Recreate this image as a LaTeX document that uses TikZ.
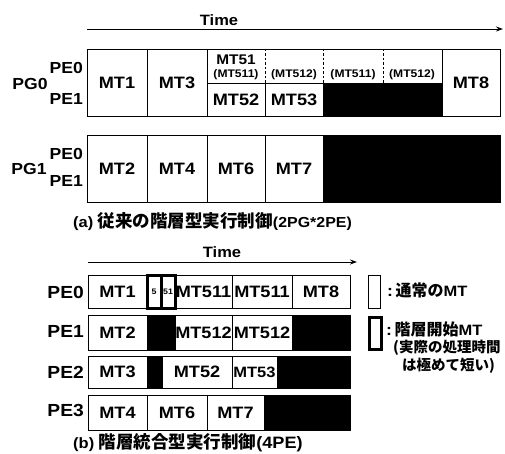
\documentclass[tikz,border=0pt]{standalone}
\usepackage{fontspec}
\setmainfont{Liberation Sans}
\newfontfamily\lat[FakeStretch=1.1]{Liberation Sans}
\newfontfamily\jp{Noto Sans CJK JP}
\usetikzlibrary{arrows.meta}
\newcommand\fs[1]{\fontsize{#1}{#1}\selectfont}
\newcommand\mtcell[7][]{\node[cellbox,minimum width={(#5-#3)*1pt},minimum height={(#6-#4)*1pt},#1] (#2) at ({(#3+#5)/2},{(#4+#6)/2}) {#7};}
\tikzset{
  cellbox/.style={draw=black,line width=0.9pt,inner sep=0pt,outer sep=0pt,font=\lat\bfseries\fs{16.5}},
  narrowcell/.style={font=\lat\bfseries\fs{15}},
  blk/.style={fill=black},
  thickbox/.style={line width=3pt},
  plain/.style={draw=none},
  lbl/.style={inner sep=0pt,font=\lat\bfseries\fs{16}},
  lblb/.style={inner sep=0pt,font=\lat\bfseries\fs{17.5}},
  small/.style={inner sep=0pt,font=\lat\bfseries\fs{11}},
  tiny5/.style={font=\lat\bfseries\fs{8}},
  timearrow/.style={line width=0.9pt,-{Stealth[length=7pt,width=5pt]}},
  sepdash/.style={line width=0.9pt,dash pattern=on 2.5pt off 2pt}
}
\begin{document}
\begin{tikzpicture}[x=1pt,y=-1pt]
\useasboundingbox (0,0) rectangle (505,454);
% ---------- (a) ----------
\node[lbl,font=\lat\bfseries\fs{15}] (timea) at (219,20) {Time};
\coordinate (ta0) at (87,29);
\coordinate (ta1) at (503,29);
\draw[timearrow] (ta0) -- (ta1);

\node[lbl,anchor=east] (pe0a) at (83,68) {PE0};
\node[lbl,anchor=east] (pe1a) at (83,99) {PE1};
\node[lbl] (pg0) at (30,84) {PG0};

\mtcell{pg0box}{87}{49}{500}{116}{}
\mtcell{mt1a}{87}{49}{147}{116}{MT1}
\mtcell{mt3a}{147}{49}{207}{116}{MT3}
\mtcell[plain]{t1}{207}{49}{265}{83}{}
\mtcell[plain]{t2}{265}{49}{323}{83}{}
\mtcell[plain]{t3}{323}{49}{383}{83}{}
\mtcell[plain]{t4}{383}{49}{442}{83}{}
\mtcell{mt52a}{207}{83}{265}{116}{MT52}
\mtcell{mt53a}{265}{83}{323}{116}{MT53}
\mtcell[blk]{blk0}{323}{83}{442}{116}{}
\mtcell{mt8a}{442}{49}{500}{116}{MT8}
\draw[sepdash] (t2.north west) -- (t2.south west);
\draw[sepdash] (t3.north west) -- (t3.south west);
\draw[sepdash] (t4.north west) -- (t4.south west);
\node[lbl,font=\lat\bfseries\fs{14}] (mt51) at (236,60) {MT51};
\node[small] (s1) at (236,75) {(MT511)};
\node[small] (s2) at (294,75) {(MT512)};
\node[small] (s3) at (353,75) {(MT511)};
\node[small] (s4) at (412,75) {(MT512)};

\node[lbl,anchor=east] (pe0b) at (83,154) {PE0};
\node[lbl,anchor=east] (pe1b) at (83,181) {PE1};
\node[lbl] (pg1) at (29,169) {PG1};
\mtcell{pg1box}{87}{135}{500}{202}{}
\mtcell{mt2a}{87}{135}{147}{202}{MT2}
\mtcell{mt4a}{147}{135}{207}{202}{MT4}
\mtcell{mt6a}{207}{135}{265}{202}{MT6}
\mtcell{mt7a}{265}{135}{323}{202}{MT7}
\mtcell[blk]{blk1}{323}{135}{500}{202}{}

\node[inner sep=0pt,anchor=west] (capa) at (73,222)
  {{\lat\bfseries\fs{15}(a) }{\jp\bfseries\fs{17.5}従来の階層型実行制御}{\lat\bfseries\fs{14.5}(2PG*2PE)}};

% ---------- (b) ----------
\node[lbl,font=\lat\bfseries\fs{15}] (timeb) at (222,252) {Time};
\coordinate (tb0) at (88,262);
\coordinate (tb1) at (357,262);
\draw[timearrow] (tb0) -- (tb1);

\node[lblb,anchor=east] (r0) at (84,292) {PE0};
\node[lblb,anchor=east] (r1) at (84,331) {PE1};
\node[lblb,anchor=east] (r2) at (84,372) {PE2};
\node[lblb,anchor=east] (r3) at (84,410) {PE3};

\mtcell{mt1b}{88}{275}{147}{308}{MT1}
\mtcell{mt511b}{175}{275}{232}{308}{MT511}
\mtcell{mt511c}{232}{275}{292}{308}{MT511}
\mtcell{mt8b}{292}{275}{350}{308}{MT8}
\mtcell[thickbox,tiny5]{s5}{147}{275}{161}{308}{5}
\mtcell[thickbox,tiny5]{s51}{161}{275}{175}{308}{51}

\mtcell{mt2b}{88}{315}{147}{350}{MT2}
\mtcell[blk]{b1a}{147}{315}{175}{350}{}
\mtcell{mt512b}{175}{315}{232}{350}{MT512}
\mtcell{mt512c}{232}{315}{292}{350}{MT512}
\mtcell[blk]{b1b}{292}{315}{350}{350}{}

\mtcell{mt3b}{88}{356}{147}{388}{MT3}
\mtcell[blk]{b2a}{147}{356}{162}{388}{}
\mtcell{mt52b}{162}{356}{232}{388}{MT52}
\mtcell[narrowcell]{mt53b}{232}{356}{277}{388}{MT53}
\mtcell[blk]{b2b}{277}{356}{350}{388}{}

\mtcell{mt4b}{88}{395}{147}{430}{MT4}
\mtcell{mt6b}{147}{395}{207}{430}{MT6}
\mtcell{mt7b}{207}{395}{264}{430}{MT7}
\mtcell[blk]{b3}{264}{395}{350}{430}{}

\node[inner sep=0pt,anchor=west] (capb) at (73,443)
  {{\lat\bfseries\fs{15}(b) }{\jp\bfseries\fs{17.5}階層統合型実行制御}{\lat\bfseries\fs{16.5}(4PE)}};

% legend
\mtcell{lg1}{368}{275}{380}{308}{}
\mtcell[thickbox]{lg2}{369}{317}{381}{349}{}
\node[inner sep=0pt,anchor=west] (lgt1) at (387,290)
  {{\lat\bfseries\fs{16}:\,}{\jp\bfseries\fs{16}通常の}{\lat\bfseries\fs{15}MT}};
\node[inner sep=0pt,anchor=west] (lgt2) at (386,329)
  {{\lat\bfseries\fs{16}:\,}{\jp\bfseries\fs{16}階層開始}{\lat\bfseries\fs{15}MT}};
\node[inner sep=0pt,anchor=west] (lgt3) at (393,348)
  {{\jp\bfseries\fs{14.5}(実際の処理時間}};
\node[inner sep=0pt,anchor=west] (lgt4) at (402,366)
  {{\jp\bfseries\fs{14.5}は極めて短い)}};
\end{tikzpicture}
\end{document}
